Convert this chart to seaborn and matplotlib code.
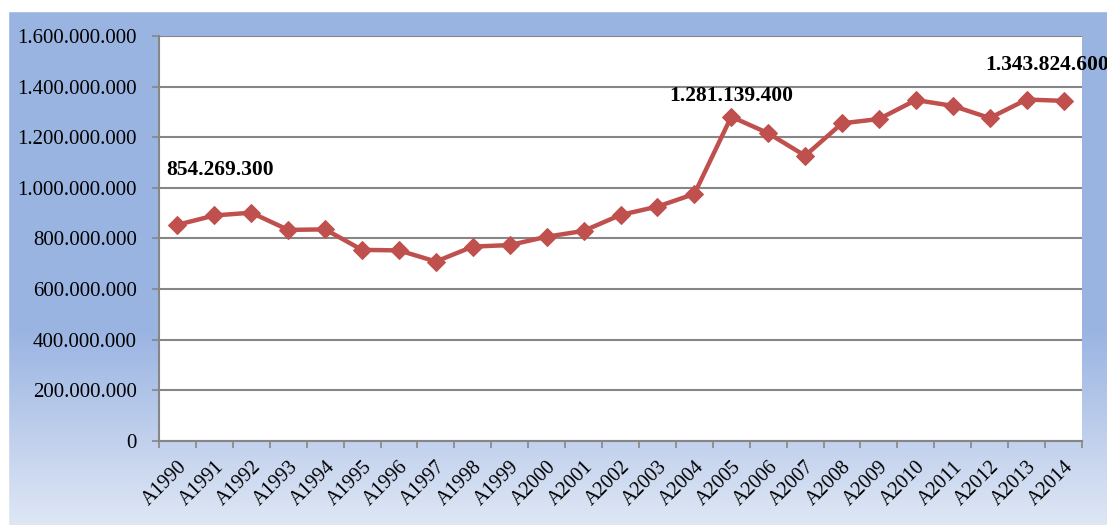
import numpy as np
import pandas as pd
import matplotlib
matplotlib.use("Agg")
import matplotlib.pyplot as plt
from matplotlib.colors import to_rgb
from matplotlib.patches import Rectangle
import seaborn as sns

years = ["A1990", "A1991", "A1992", "A1993", "A1994", "A1995", "A1996", "A1997",
         "A1998", "A1999", "A2000", "A2001", "A2002", "A2003", "A2004", "A2005",
         "A2006", "A2007", "A2008", "A2009", "A2010", "A2011", "A2012", "A2013", "A2014"]
values = [854269300, 891000000, 902000000, 834000000, 836000000, 755000000, 753000000, 709000000,
          768000000, 774000000, 807000000, 830000000, 893000000, 926000000, 976000000, 1281139400,
          1216000000, 1127000000, 1255000000, 1272000000, 1347000000, 1324000000, 1276000000, 1349000000, 1343824600]
label_idx = [0, 15, 24]
label_texts = ["854.269.300", "1.281.139.400", "1.343.824.600"]
yticks = [0, 200e6, 400e6, 600e6, 800e6, 1000e6, 1200e6, 1400e6, 1600e6]
ytick_labels = ["0", "200.000.000", "400.000.000", "600.000.000", "800.000.000",
                "1.000.000.000", "1.200.000.000", "1.400.000.000", "1.600.000.000"]

df = pd.DataFrame({"year": years, "value": values})

sns.set_theme(style="white")
plt.rcParams["font.family"] = ["Liberation Serif", "DejaVu Serif"]

W, H = 1107, 525
fig = plt.figure(figsize=(W / 100, H / 100), dpi=100)

# background gradient
bg = fig.add_axes([0, 0, 1, 1], zorder=-10)
top = np.array(to_rgb("#9AB4E2"))
bot = np.array(to_rgb("#DFE7F5"))
grad = np.zeros((H, 1, 3))
for i in range(H):
    t = 0.0 if i < 330 else min(1.0, (i - 330) / (H - 330))
    grad[i, 0, :] = top * (1 - t) + bot * t
bg.imshow(grad, extent=[0, 1, 0, 1], aspect="auto", origin="upper")
bg.add_patch(Rectangle((0, 1 - 11 / H), 1, 11 / H, color="white", transform=bg.transAxes, zorder=5))
bg.add_patch(Rectangle((0, 0), 8 / W, 1, color="white", transform=bg.transAxes, zorder=5))
bg.set_xlim(0, 1)
bg.set_ylim(0, 1)
bg.axis("off")

left, right, topp, bottom = 159, 1082, 36, 441
ax = fig.add_axes([left / W, 1 - bottom / H, (right - left) / W, (bottom - topp) / H])
ax.set_facecolor("white")

sns.lineplot(data=df, x="year", y="value", ax=ax, color="#C0504D", linewidth=3.2,
             marker="D", markersize=9, markeredgecolor="#C0504D", sort=False)

ax.set_xlim(-0.5, len(years) - 0.5)
ax.set_ylim(0, 1.6e9)
ax.set_yticks(yticks)
ax.set_yticklabels(ytick_labels, fontsize=15, color="black")
ax.set_xticks(range(len(years)))
ax.set_xticklabels(years, rotation=45, ha="right", rotation_mode="anchor", fontsize=14.5, color="black")
ax.tick_params(axis="x", which="major", length=0, pad=12)
ax.set_xticks(np.arange(-0.5, len(years), 1.0), minor=True)
ax.tick_params(axis="x", which="minor", length=5, width=1.2, color="#868686", direction="out", bottom=True)
ax.tick_params(axis="y", which="major", length=5, width=1.2, color="#868686", direction="out", left=True, pad=11)
ax.grid(axis="y", color="#868686", linewidth=1.5)
ax.grid(axis="x", visible=False)
ax.set_axisbelow(True)
for s in ["top", "right"]:
    ax.spines[s].set_visible(False)
for s in ["left", "bottom"]:
    ax.spines[s].set_color("#868686")
    ax.spines[s].set_linewidth(1.5)
ax.set_xlabel("")
ax.set_ylabel("")

# data labels
offsets = [(1.15, 217e6), (0, 82e6), (-0.44, 142e6)]
for idx, txt, (dx, dy) in zip(label_idx, label_texts, offsets):
    ax.text(idx + dx, values[idx] + dy, txt, ha="center", va="center", fontsize=15.5,
            fontweight="bold", color="black", clip_on=False)

fig.savefig("out.png", dpi=100)
